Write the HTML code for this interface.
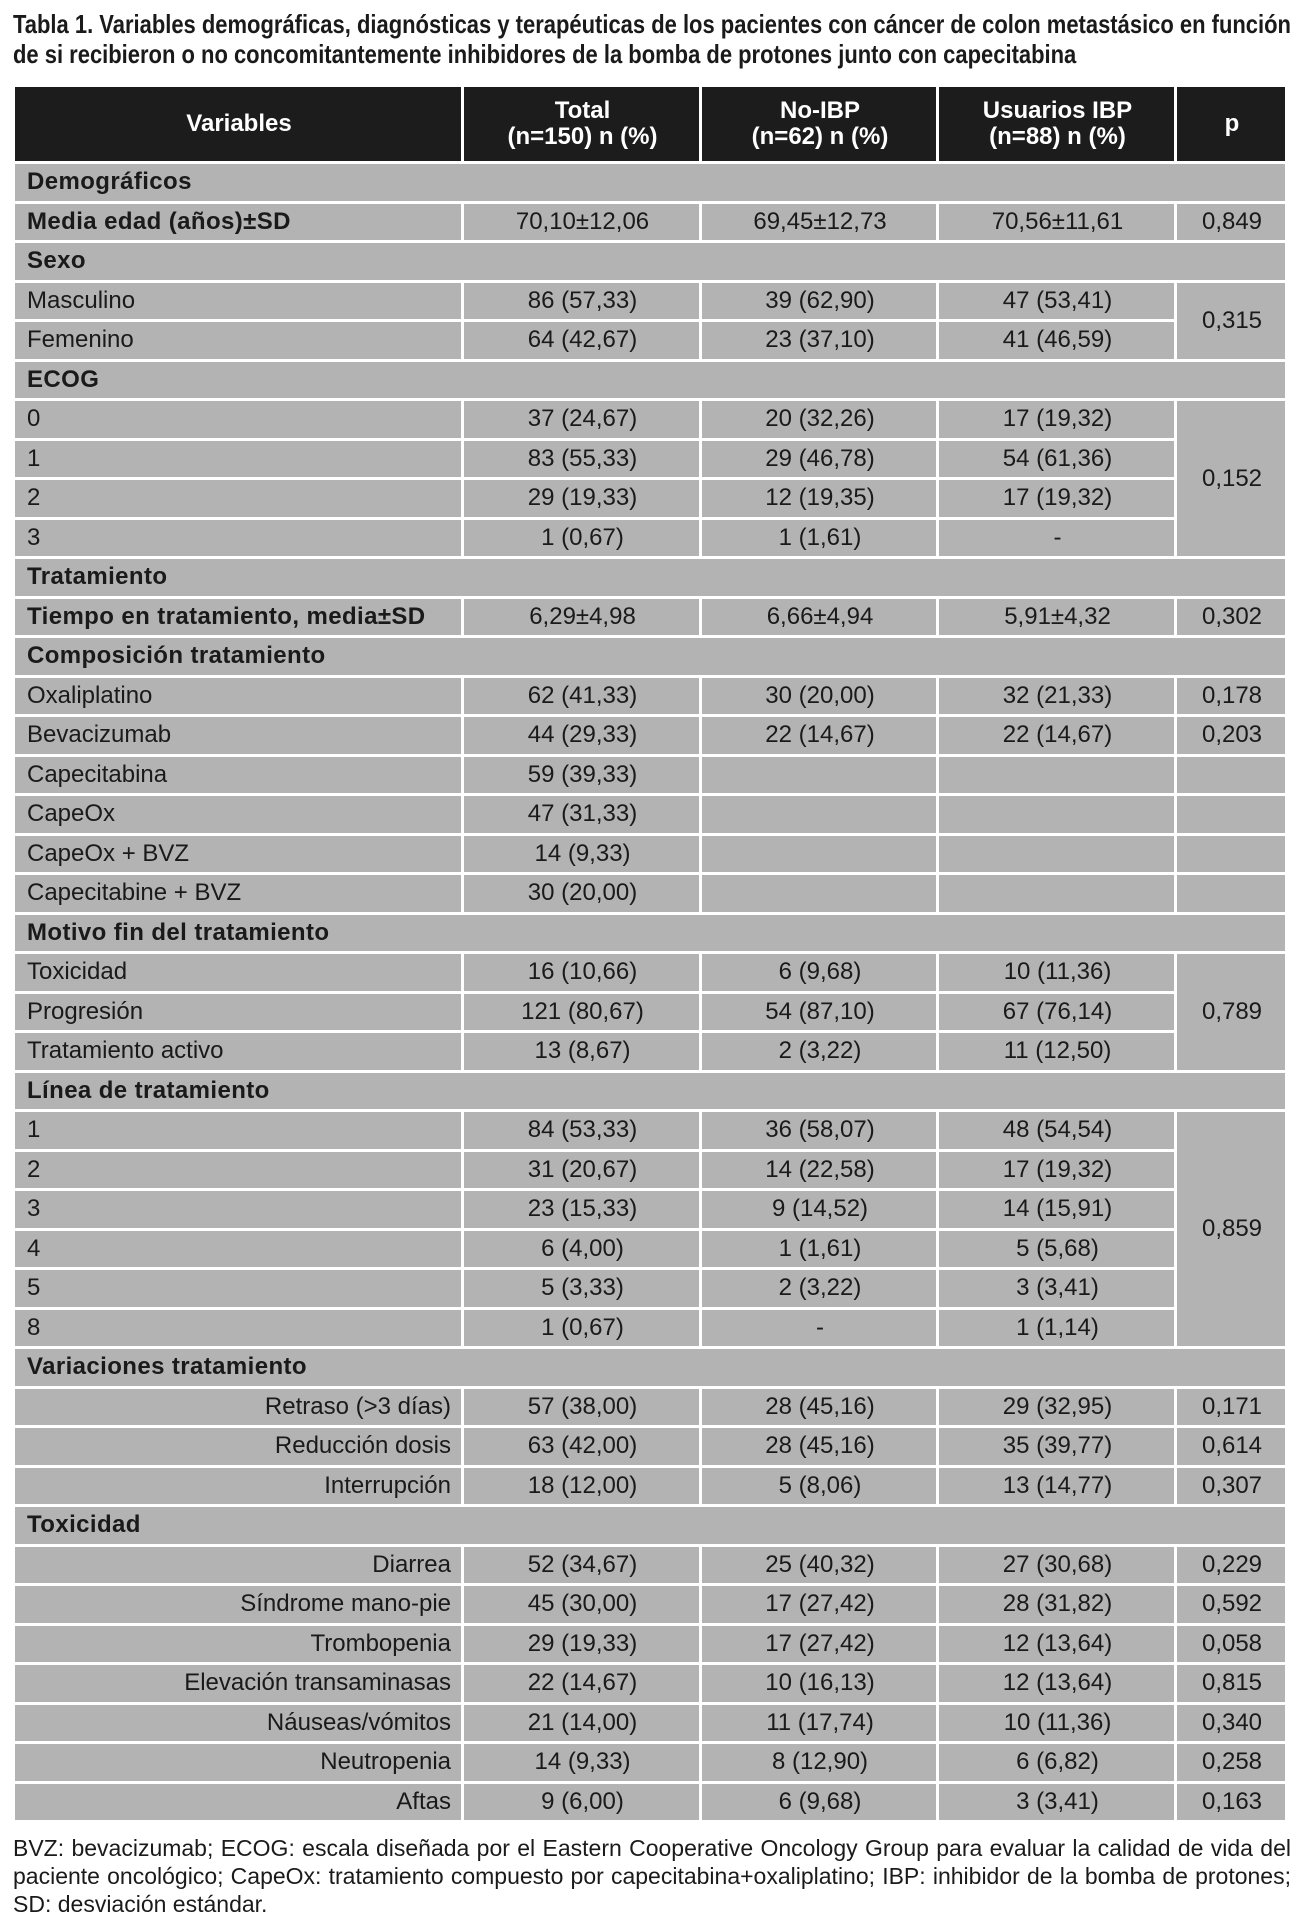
<!DOCTYPE html>
<html><head><meta charset="utf-8">
<style>
html,body{margin:0;padding:0;background:#fff;}
body{width:1306px;height:1920px;position:relative;overflow:hidden;font-family:"Liberation Sans",sans-serif;color:#1a1a1a;}
.title{position:absolute;left:13px;top:9px;font-weight:bold;font-size:26px;line-height:30px;white-space:nowrap;color:#1a1a1a;transform:scaleX(0.845);transform-origin:0 0;}
table{position:absolute;left:12px;top:84px;border-collapse:separate;border-spacing:3px;table-layout:fixed;width:1276px;}
td,th{background:#b3b3b3;padding:0 10px 0 12px;font-size:24px;height:36.5px;box-sizing:border-box;text-align:center;white-space:nowrap;overflow:hidden;line-height:24px;}
th{background:#1c1c1c;color:#fff;font-weight:bold;height:74px;font-size:24px;line-height:26px;}
td.l{text-align:left;}
td.r{text-align:right;}
.b{font-weight:bold;letter-spacing:0.4px;}
.foot{position:absolute;left:13px;top:1834px;width:1278px;font-size:23px;line-height:28px;color:#1a1a1a;}
.foot div{text-align:justify;text-align-last:justify;white-space:nowrap;}
.foot div.last{text-align-last:left;}
</style></head><body>
<div class="title">Tabla 1. Variables demográficas, diagnósticas y terapéuticas de los pacientes con cáncer de colon metastásico en función<br>de si recibieron o no concomitantemente inhibidores de la bomba de protones junto con capecitabina</div>
<table>
<colgroup><col style="width:446px"><col style="width:235px"><col style="width:234px"><col style="width:235px"><col style="width:108px"></colgroup>
<tr><th>Variables</th><th>Total<br>(n=150) n (%)</th><th>No-IBP<br>(n=62) n (%)</th><th>Usuarios IBP<br>(n=88) n (%)</th><th>p</th></tr>
<tr><td class="l b" colspan="5">Demográficos</td></tr>
<tr><td class="l b">Media edad (años)±SD</td><td>70,10±12,06</td><td>69,45±12,73</td><td>70,56±11,61</td><td>0,849</td></tr>
<tr><td class="l b" colspan="5">Sexo</td></tr>
<tr><td class="l">Masculino</td><td>86 (57,33)</td><td>39 (62,90)</td><td>47 (53,41)</td><td rowspan="2">0,315</td></tr>
<tr><td class="l">Femenino</td><td>64 (42,67)</td><td>23 (37,10)</td><td>41 (46,59)</td></tr>
<tr><td class="l b" colspan="5">ECOG</td></tr>
<tr><td class="l">0</td><td>37 (24,67)</td><td>20 (32,26)</td><td>17 (19,32)</td><td rowspan="4">0,152</td></tr>
<tr><td class="l">1</td><td>83 (55,33)</td><td>29 (46,78)</td><td>54 (61,36)</td></tr>
<tr><td class="l">2</td><td>29 (19,33)</td><td>12 (19,35)</td><td>17 (19,32)</td></tr>
<tr><td class="l">3</td><td>1 (0,67)</td><td>1 (1,61)</td><td>-</td></tr>
<tr><td class="l b" colspan="5">Tratamiento</td></tr>
<tr><td class="l b">Tiempo en tratamiento, media±SD</td><td>6,29±4,98</td><td>6,66±4,94</td><td>5,91±4,32</td><td>0,302</td></tr>
<tr><td class="l b" colspan="5">Composición tratamiento</td></tr>
<tr><td class="l">Oxaliplatino</td><td>62 (41,33)</td><td>30 (20,00)</td><td>32 (21,33)</td><td>0,178</td></tr>
<tr><td class="l">Bevacizumab</td><td>44 (29,33)</td><td>22 (14,67)</td><td>22 (14,67)</td><td>0,203</td></tr>
<tr><td class="l">Capecitabina</td><td>59 (39,33)</td><td></td><td></td><td></td></tr>
<tr><td class="l">CapeOx</td><td>47 (31,33)</td><td></td><td></td><td></td></tr>
<tr><td class="l">CapeOx + BVZ</td><td>14 (9,33)</td><td></td><td></td><td></td></tr>
<tr><td class="l">Capecitabine + BVZ</td><td>30 (20,00)</td><td></td><td></td><td></td></tr>
<tr><td class="l b" colspan="5">Motivo fin del tratamiento</td></tr>
<tr><td class="l">Toxicidad</td><td>16 (10,66)</td><td>6 (9,68)</td><td>10 (11,36)</td><td rowspan="3">0,789</td></tr>
<tr><td class="l">Progresión</td><td>121 (80,67)</td><td>54 (87,10)</td><td>67 (76,14)</td></tr>
<tr><td class="l">Tratamiento activo</td><td>13 (8,67)</td><td>2 (3,22)</td><td>11 (12,50)</td></tr>
<tr><td class="l b" colspan="5">Línea de tratamiento</td></tr>
<tr><td class="l">1</td><td>84 (53,33)</td><td>36 (58,07)</td><td>48 (54,54)</td><td rowspan="6">0,859</td></tr>
<tr><td class="l">2</td><td>31 (20,67)</td><td>14 (22,58)</td><td>17 (19,32)</td></tr>
<tr><td class="l">3</td><td>23 (15,33)</td><td>9 (14,52)</td><td>14 (15,91)</td></tr>
<tr><td class="l">4</td><td>6 (4,00)</td><td>1 (1,61)</td><td>5 (5,68)</td></tr>
<tr><td class="l">5</td><td>5 (3,33)</td><td>2 (3,22)</td><td>3 (3,41)</td></tr>
<tr><td class="l">8</td><td>1 (0,67)</td><td>-</td><td>1 (1,14)</td></tr>
<tr><td class="l b" colspan="5">Variaciones tratamiento</td></tr>
<tr><td class="r">Retraso (&gt;3 días)</td><td>57 (38,00)</td><td>28 (45,16)</td><td>29 (32,95)</td><td>0,171</td></tr>
<tr><td class="r">Reducción dosis</td><td>63 (42,00)</td><td>28 (45,16)</td><td>35 (39,77)</td><td>0,614</td></tr>
<tr><td class="r">Interrupción</td><td>18 (12,00)</td><td>5 (8,06)</td><td>13 (14,77)</td><td>0,307</td></tr>
<tr><td class="l b" colspan="5">Toxicidad</td></tr>
<tr><td class="r">Diarrea</td><td>52 (34,67)</td><td>25 (40,32)</td><td>27 (30,68)</td><td>0,229</td></tr>
<tr><td class="r">Síndrome mano-pie</td><td>45 (30,00)</td><td>17 (27,42)</td><td>28 (31,82)</td><td>0,592</td></tr>
<tr><td class="r">Trombopenia</td><td>29 (19,33)</td><td>17 (27,42)</td><td>12 (13,64)</td><td>0,058</td></tr>
<tr><td class="r">Elevación transaminasas</td><td>22 (14,67)</td><td>10 (16,13)</td><td>12 (13,64)</td><td>0,815</td></tr>
<tr><td class="r">Náuseas/vómitos</td><td>21 (14,00)</td><td>11 (17,74)</td><td>10 (11,36)</td><td>0,340</td></tr>
<tr><td class="r">Neutropenia</td><td>14 (9,33)</td><td>8 (12,90)</td><td>6 (6,82)</td><td>0,258</td></tr>
<tr><td class="r">Aftas</td><td>9 (6,00)</td><td>6 (9,68)</td><td>3 (3,41)</td><td>0,163</td></tr>
</table>
<div class="foot">
<div>BVZ: bevacizumab; ECOG: escala diseñada por el Eastern Cooperative Oncology Group para evaluar la calidad de vida del</div>
<div>paciente oncológico; CapeOx: tratamiento compuesto por capecitabina+oxaliplatino; IBP: inhibidor de la bomba de protones;</div>
<div class="last">SD: desviación estándar.</div>
</div>
</body></html>
